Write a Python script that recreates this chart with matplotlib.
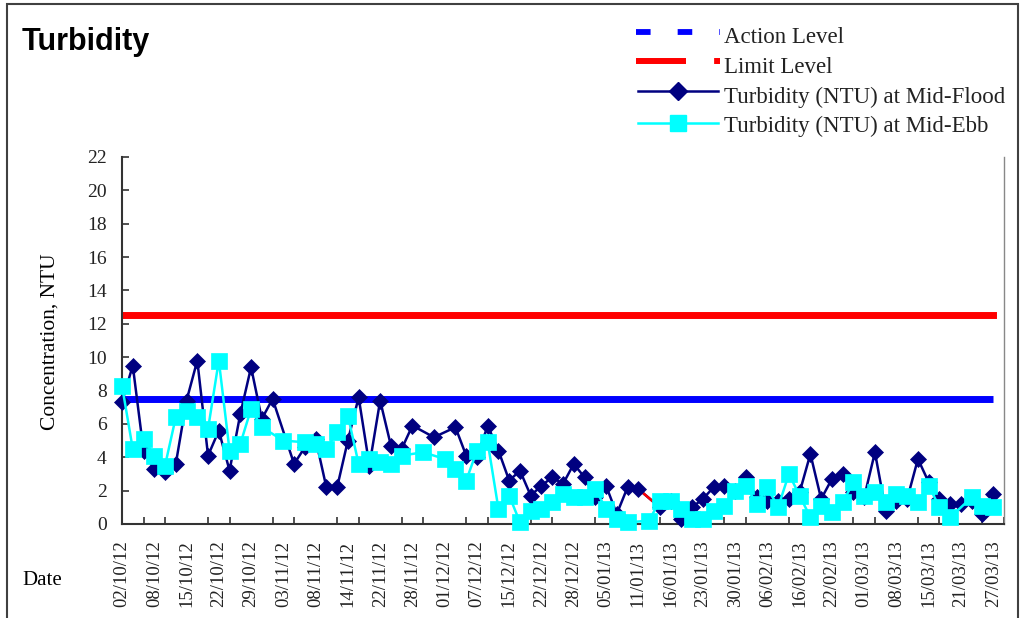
import numpy as np
import matplotlib.pyplot as plt
from matplotlib.lines import Line2D
from matplotlib.patches import Rectangle

plt.rcParams['lines.scale_dashes'] = False

# ---- data ----
date_labels = ["02/10/12", "08/10/12", "15/10/12", "22/10/12", "29/10/12", "03/11/12",
               "08/11/12", "14/11/12", "22/11/12", "28/11/12", "01/12/12", "07/12/12",
               "15/12/12", "22/12/12", "28/12/12", "05/01/13", "11/01/13", "16/01/13",
               "23/01/13", "30/01/13", "06/02/13", "16/02/13", "22/02/13", "01/03/13",
               "08/03/13", "15/03/13", "21/03/13", "27/03/13"]
label_step = 3

nan = np.nan
mid_flood = [7.3, 9.5, 4.4, 3.3, 3.1, 3.6, 7.4, 9.8, 4.1, 5.6,
             3.2, 6.6, 9.4, 6.3, 7.5, nan, 3.6, 4.6, 5.1, 2.2,
             2.2, 5.0, 7.6, 3.5, 7.4, 4.7, 4.5, 5.9, nan, 5.2,
             nan, 5.8, 4.1, 4.0, 5.9, 4.4, 2.6, 3.2, 1.7, 2.3,
             2.8, 2.4, 3.6, 2.8, 1.6, 2.3, 0.6, 2.2, 2.1, nan,
             1.0, 1.4, 0.3, 1.0, 1.5, 2.2, 2.3, 2.0, 2.8, 1.6,
             1.4, 1.4, 1.5, 1.9, 4.2, 1.5, 2.7, 3.0, 1.9, 1.6,
             4.3, 0.8, 1.4, 1.5, 3.9, 2.5, 1.5, 1.2, 1.2, 1.4,
             0.6, 1.8]
mid_ebb = [8.3, 4.5, 5.1, 4.1, 3.5, 6.4, 6.8, 6.4, 5.7, 9.8,
           4.4, 4.8, 6.9, 5.8, nan, 5.0, nan, 4.9, 4.8, 4.5,
           5.5, 6.5, 3.6, 3.9, 3.7, 3.6, 4.1, nan, 4.3, nan,
           3.9, 3.3, 2.6, 4.4, 4.9, 0.9, 1.7, 0.1, 0.8, 0.9,
           1.3, 1.8, 1.6, 1.6, 2.1, 0.9, 0.3, 0.1, nan, 0.2,
           1.4, 1.4, 0.9, 0.3, 0.3, 0.8, 1.1, 2.0, 2.3, 1.2,
           2.2, 1.0, 3.0, 1.7, 0.4, 1.1, 0.7, 1.3, 2.5, 1.7,
           1.9, 1.3, 1.8, 1.7, 1.3, 2.3, 1.0, 0.4, nan, 1.6,
           1.1, 1.0]
action_level = 7.5
limit_level = 12.5

# ---- styles ----
W, H = 1022, 618
serif = "Liberation Serif"
txt_col = "#222222"
navy, cyan, blue, red = "#000080", "#00FFFF", "#0000FF", "#FF0000"

fig = plt.figure(figsize=(W / 100, H / 100), dpi=100)
ax = fig.add_axes([122 / W, 1 - 524 / H, (1004 - 122) / W, (524 - 157) / H])

x = np.arange(len(mid_flood))
flood = np.array(mid_flood, dtype=float)
ebb = np.array(mid_ebb, dtype=float)

ax.plot(x, np.full(len(x), limit_level), color=red, lw=5,
        solid_capstyle='projecting', zorder=2)
ax.plot(x, np.full(len(x), action_level), color=blue, lw=5,
        solid_capstyle='butt', zorder=2)

mf = ~np.isnan(flood)
ax.plot(x[mf], flood[mf], color=navy, lw=1.8, zorder=3)
# one segment of the flood line is coloured red in the original
ax.plot([48, 50], [flood[48], flood[50]], color=red, lw=1.8, zorder=3.1)
ax.plot(x[mf], flood[mf], ls='none', marker='D', ms=8.3, mfc=navy, mec=navy,
        mew=0.5, clip_on=False, zorder=3.2)

me = ~np.isnan(ebb)
ax.plot(x[me], ebb[me], color=cyan, lw=1.8, marker='s', ms=11.2, mfc=cyan,
        mec=cyan, mew=0.5, clip_on=False, zorder=4)

ax.set_xlim(0, len(x))
ax.set_ylim(0, 22)
ax.set_xticks(np.arange(0, len(x), label_step))
ax.set_xticklabels(date_labels, rotation=90, fontsize=13.5, family=serif, color=txt_col)
ax.set_xticks(np.arange(0, len(x) + 1, 2), minor=True)
ax.tick_params(axis='x', which='major', length=0, pad=12)
ax.tick_params(axis='x', which='minor', direction='in', length=5, width=1.2, color='#333333')
ax.set_yticks(np.arange(0, 23, 2))
ax.tick_params(axis='y', direction='in', length=5, width=1.2, pad=11,
               labelsize=14, labelcolor=txt_col, color='#333333')
for lab in ax.get_yticklabels():
    lab.set_family(serif)

ax.spines['top'].set_visible(False)
ax.spines['right'].set_color('#888888')
ax.spines['right'].set_linewidth(1)
for s in ('left', 'bottom'):
    ax.spines[s].set_color('#333333')
    ax.spines[s].set_linewidth(1.5)

fig.text(50 / W, 1 - 342 / H, "Concentration, NTU", rotation=90, ha='center',
         va='center', fontsize=15.5, family=serif, color='black')
fig.text(22 / W, 1 - 585 / H, "Date", ha='left', va='baseline',
         fontsize=15, family=serif, color='black')
fig.text(22 / W, 1 - 50 / H, "Turbidity", ha='left', va='baseline',
         fontsize=22, weight='bold', family='Liberation Sans', color='black')

# ---- legend (drawn by hand to keep the Excel-like layout) ----
def fy(y):
    return 1 - y / H

fig.add_artist(Line2D([636 / W, 720 / W], [fy(31.5)] * 2, color=blue, lw=4.2,
                      linestyle=(0, (10.5, 19.5)), dash_capstyle='butt'))
fig.add_artist(Line2D([636 / W, 720 / W], [fy(60.5)] * 2, color=red, lw=4.3,
                      linestyle=(0, (36, 20.25)), dash_capstyle='butt'))
fig.add_artist(Line2D([638 / W, 718 / W], [fy(91)] * 2, color=navy, lw=1.8))
fig.add_artist(Line2D([678 / W], [fy(91)], ls='none', marker='D', ms=9,
                      mfc=navy, mec=navy))
fig.add_artist(Line2D([638 / W, 718 / W], [fy(123)] * 2, color=cyan, lw=1.8))
fig.add_artist(Line2D([678 / W], [fy(123)], ls='none', marker='s', ms=12,
                      mfc=cyan, mec=cyan))
legend_labels = ["Action Level", "Limit Level",
                 "Turbidity (NTU) at Mid-Flood", "Turbidity (NTU) at Mid-Ebb"]
for lab, yb in zip(legend_labels, [43.3, 73.3, 102.7, 131.7]):
    fig.text(724 / W, fy(yb), lab, ha='left', va='baseline', fontsize=16.5,
             family=serif, color=txt_col)

# outer chart frame
fig.add_artist(Rectangle((7 / W, -0.1), (1018 - 7) / W, fy(4) + 0.1,
                         transform=fig.transFigure, fill=False,
                         ec='#404040', lw=1.5, clip_on=False))

fig.savefig("out.png", dpi=100)
